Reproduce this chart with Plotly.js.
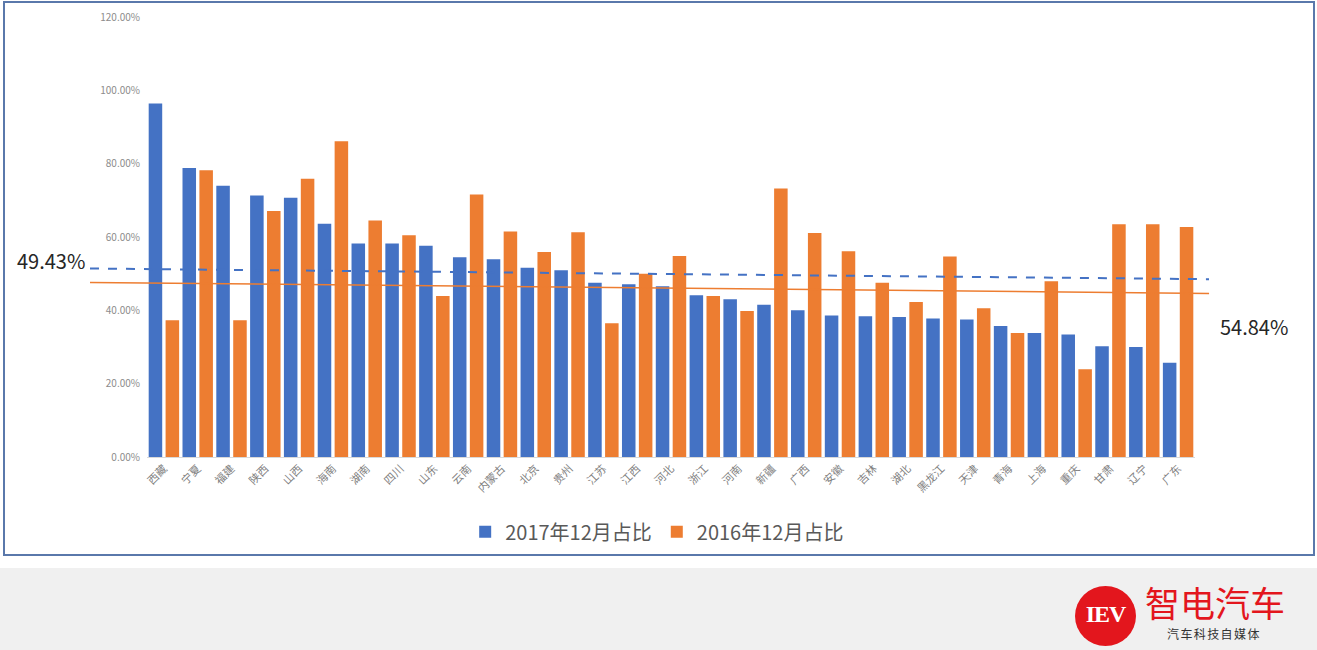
<!DOCTYPE html>
<html>
<head>
<meta charset="utf-8">
<script src="https://cdn.plot.ly/plotly-3.0.1.min.js"></script>
<style>
  html, body { margin: 0; padding: 0; background: #ffffff; }
  #wrap { position: relative; width: 1317px; height: 650px; overflow: hidden; }
  #frame { position: absolute; left: 3px; top: 1px; width: 1308px; height: 551px; border: 2px solid #5a78ab; }
  #footer { position: absolute; left: 0; top: 568px; width: 1317px; height: 82px; background: #f0f0f0; }
  #chart { position: absolute; left: 0; top: 0; width: 1317px; height: 650px; }
  #logoCircle { position: absolute; left: 1075px; top: 586px; width: 61px; height: 60px; border-radius: 50%; background: #e3161d;
    color: #fff; font-family: "Liberation Serif", "DejaVu Serif", serif; font-weight: bold; font-size: 24px; line-height: 56px; text-align: center; letter-spacing: -1px; }
  #logoName { position: absolute; left: 1145px; top: 580px; font-family: "Noto Sans CJK SC", sans-serif; font-size: 35px; line-height: 44px; color: #e3161d; letter-spacing: 0px; }
  #logoSub { position: absolute; left: 1167px; top: 626px; font-family: "Noto Sans CJK SC", sans-serif; font-size: 12px; line-height: 16px; color: #333; letter-spacing: 1.4px; }
</style>
</head>
<body>
<div id="wrap">
  <div id="frame"></div>
  <div id="footer"></div>
  <div id="chart"></div>
  <div id="logoCircle">IEV</div>
  <div id="logoName">智电汽车</div>
  <div id="logoSub">汽车科技自媒体</div>
</div>
<script>
// ---- data ----
const provinces = ['西藏','宁夏','福建','陕西','山西','海南','湖南','四川','山东','云南','内蒙古','北京','贵州','江苏','江西','河北','浙江','河南','新疆','广西','安徽','吉林','湖北','黑龙江','天津','青海','上海','重庆','甘肃','辽宁','广东'];
const share2017 = [96.4,78.8,74.0,71.3,70.7,63.6,58.2,58.2,57.6,54.5,53.9,51.6,50.9,47.5,47.1,46.6,44.1,43.0,41.5,40.0,38.6,38.4,38.2,37.8,37.5,35.7,33.8,33.4,30.2,30.0,25.7];
const share2016 = [37.3,78.2,37.3,67.1,75.9,86.1,64.5,60.5,43.9,71.6,61.5,55.9,61.3,36.5,50.0,54.8,43.9,39.8,73.2,61.1,56.1,47.5,42.3,54.7,40.6,33.8,47.9,23.9,63.5,63.5,62.7];
const seriesNames = ['2017年12月占比','2016年12月占比'];
const trend2017 = [51.4, 48.5];   // start / end of trend line
const trend2016 = [47.6, 44.6];
const leftLabel = '49.43%';
const rightLabel = '54.84%';
const yTicks = [0,20,40,60,80,100,120];
const yTickText = ['0.00%','20.00%','40.00%','60.00%','80.00%','100.00%','120.00%'];

const blue = '#4472C4', orange = '#ED7D31';
const cjk = '"Noto Sans CJK SC", "Noto Sans", sans-serif';

const traces = [
  { type: 'bar', name: seriesNames[0], x: provinces, y: share2017, marker: { color: blue } },
  { type: 'bar', name: seriesNames[1], x: provinces, y: share2016, marker: { color: orange } }
];

const lx0 = -0.0544, lx1 = 1.0134;
const layout = {
  width: 1317, height: 650,
  margin: { l: 147, r: 122, t: 17, b: 193 },
  paper_bgcolor: 'rgba(0,0,0,0)',
  plot_bgcolor: 'rgba(0,0,0,0)',
  barmode: 'group',
  bargap: 0,
  bargroupgap: 0.2,
  font: { family: cjk, color: '#7f7f7f' },
  xaxis: {
    type: 'category',
    tickangle: -45,
    tickfont: { size: 11, color: '#7f7f7f', family: cjk },
    showline: true, linecolor: '#d9d9d9', linewidth: 1,
    showgrid: false, ticks: '', zeroline: false
  },
  yaxis: {
    range: [0, 120],
    tickmode: 'array',
    tickvals: yTicks,
    ticktext: yTickText,
    tickfont: { size: 10, color: '#8c8c8c', family: cjk },
    showgrid: false, zeroline: false, showline: false, ticks: '',
    ticklabelstandoff: 6
  },
  showlegend: true,
  legend: {
    orientation: 'h',
    xref: 'container', yref: 'container',
    x: 0.499, xanchor: 'center',
    y: 0.182, yanchor: 'middle',
    font: { size: 20, color: '#595959', family: cjk },
    bgcolor: 'rgba(0,0,0,0)',
    itemwidth: 30
  },
  shapes: [
    { type: 'line', xref: 'paper', yref: 'y', x0: lx0, x1: lx1, y0: trend2017[0], y1: trend2017[1],
      line: { color: blue, width: 2, dash: 'dash' } },
    { type: 'line', xref: 'paper', yref: 'y', x0: lx0, x1: lx1, y0: trend2016[0], y1: trend2016[1],
      line: { color: orange, width: 1.5 } }
  ],
  annotations: [
    { text: leftLabel, xref: 'paper', yref: 'paper', x: -0.0573, y: 0.4455, xanchor: 'right', yanchor: 'middle',
      showarrow: false, font: { size: 20, color: '#262626', family: cjk } },
    { text: rightLabel, xref: 'paper', yref: 'paper', x: 1.0219, y: 0.2955, xanchor: 'left', yanchor: 'middle',
      showarrow: false, font: { size: 20, color: '#262626', family: cjk } }
  ]
};

Plotly.newPlot('chart', traces, layout, { displayModeBar: false, staticPlot: true });
</script>
</body>
</html>
